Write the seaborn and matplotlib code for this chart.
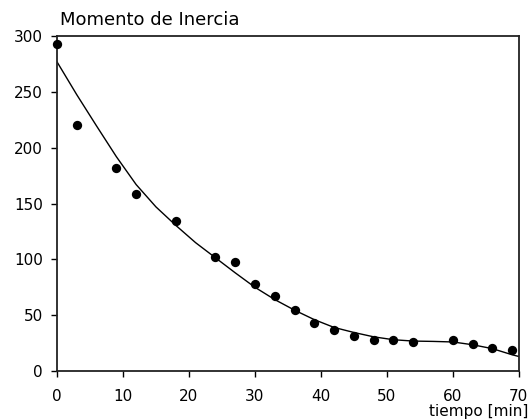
import matplotlib
matplotlib.use("Agg")
import matplotlib.pyplot as plt
import seaborn as sns
import pandas as pd

sns.set_style("white")
plt.rcParams['font.family'] = ['DejaVu Sans']
plt.rcParams['text.color'] = 'black'

# measured points
tiempo = [0, 3, 9, 12, 18, 24, 27, 30, 33, 36, 39, 42, 45, 48, 51, 54, 60, 63, 66, 69]
inercia = [293, 220, 182, 159, 134, 102, 98, 78, 67, 55, 43, 37, 31, 28, 28, 26, 28, 24.5, 20.5, 19]
# trend curve
curva_x = [0, 3, 6, 9, 12, 15, 18, 21, 24, 27, 30, 33, 36, 39, 42, 45, 48, 51, 54, 57, 60, 63, 66, 69, 70]
curva_y = [277, 247.5, 219.5, 192, 167, 147, 130.5, 115, 101.5, 88, 75, 64, 54.5, 46, 39, 34.5, 30.6, 28, 26.8, 26.5, 26, 23.5, 20, 14.5, 13]
xticks = [0, 10, 20, 30, 40, 50, 60, 70]
yticks = [0, 50, 100, 150, 200, 250, 300]

df = pd.DataFrame({"tiempo": tiempo, "inercia": inercia})
dc = pd.DataFrame({"x": curva_x, "y": curva_y})

fig = plt.figure(figsize=(5.3, 4.2), dpi=100)
ax = fig.add_axes([0.1075, 0.1167, 0.8715, 0.7973])

sns.lineplot(data=dc, x="x", y="y", ax=ax, color="black", lw=1.0, sort=True)
sns.scatterplot(data=df, x="tiempo", y="inercia", ax=ax, s=45, color="black",
                edgecolor="black", linewidth=0, zorder=3, clip_on=False)

ax.set_xlim(0, 70)
ax.set_ylim(0, 300)
ax.set_xticks(xticks)
ax.set_yticks(yticks)
ax.tick_params(axis="both", direction="out", length=4, width=1, color="black",
               labelsize=11, labelcolor="black", bottom=True, left=True)
ax.tick_params(axis="x", pad=9)
ax.tick_params(axis="y", pad=6)
for s in ax.spines.values():
    s.set_color("#222222")
    s.set_linewidth(1.3)
ax.set_xlabel("")
ax.set_ylabel("")
fig.text(0.113, 0.932, "Momento de Inercia", fontsize=13, ha="left", va="bottom", color="black")
fig.text(0.997, 0.002, "tiempo [min]", fontsize=11, ha="right", va="bottom", color="black")

fig.savefig("out.png", dpi=100)
